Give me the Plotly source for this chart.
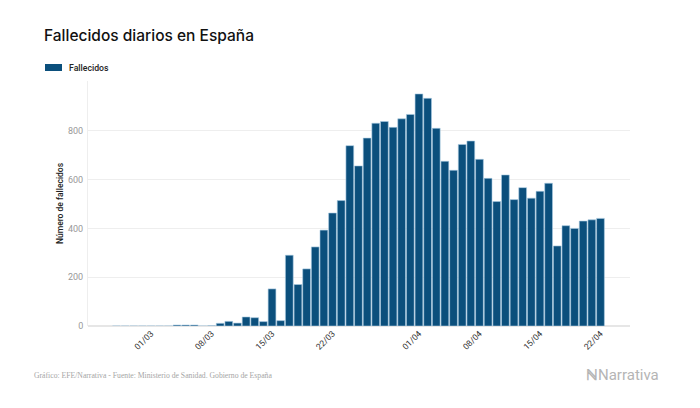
import plotly.graph_objects as go
import pandas as pd

dates = pd.date_range("2020-02-26", "2020-04-22", freq="D").strftime("%Y-%m-%d").tolist()
deaths = [
    0, 0, 0, 0, 0, 0, 0,          # 26/02 - 03/03
    4, 4, 4, 0, 1,                # 04/03 - 08/03
    11, 19, 12, 37, 34, 18, 152,  # 09/03 - 15/03
    22, 290, 170, 234, 324, 393, 463,  # 16/03 - 22/03
    514, 739, 656, 770, 831, 838, 814, 849, 867,  # 23/03 - 31/03
    951, 933, 810, 675, 638, 744, 758,  # 01/04 - 07/04
    683, 605, 510, 619, 518, 567, 524,  # 08/04 - 14/04
    552, 585, 328, 411, 400, 430, 435,  # 15/04 - 21/04
    441,                          # 22/04
]
tick_vals = ["2020-03-01", "2020-03-08", "2020-03-15", "2020-03-22",
             "2020-04-01", "2020-04-08", "2020-04-15", "2020-04-22"]
tick_text = ["01/03", "08/03", "15/03", "22/03", "01/04", "08/04", "15/04", "22/04"]
y_ticks = [0, 200, 400, 600, 800]

BAR = "#0b4f7c"
FONT = "Roboto"
OFF = 8  # page body margin offset
W, H = 700 - OFF, 408 - OFF
L, R, T, B = 88 - OFF, 70, 81 - OFF, 82


def px(x):
    return (x - OFF - L) / (W - L - R)


def py(y):
    return (H - B - (y - OFF)) / (H - T - B)


fig = go.Figure()
fig.add_trace(go.Bar(
    x=dates, y=deaths, name="Fallecidos", showlegend=False,
    marker=dict(color=BAR, line=dict(color="#a9cbe3", width=0.6)),
))

fig.update_layout(
    width=W, height=H,
    paper_bgcolor="white", plot_bgcolor="white",
    margin=dict(l=L, r=R, t=T, b=B, autoexpand=False),
    bargap=0.1,
    showlegend=False,
    title=dict(text="Fallecidos diarios en España", x=(44 - OFF) / W, xanchor="left",
               y=1 - (36 - OFF) / H, yanchor="middle",
               font=dict(family="Inter", size=15.5, color="#111", weight=500)),
    xaxis=dict(
        type="date", automargin=False,
        range=["2020-02-22 17:00", "2020-04-25 10:00"],
        tickvals=tick_vals, ticktext=tick_text, tickangle=-45,
        tickfont=dict(family=FONT, size=8.5, color="#333"),
        showgrid=False, showline=False, zeroline=False, ticks="",
    ),
    yaxis=dict(
        range=[0, 1004], tickvals=y_ticks, automargin=False,
        tickfont=dict(family=FONT, size=9, color="#999"),
        showgrid=True, gridcolor="#eeeeee", gridwidth=1,
        showline=True, linecolor="#eeeeee", linewidth=1,
        zeroline=True, zerolinecolor="#e6e6e6",
        ticks="", ticklabelstandoff=2,
    ),
)

# y axis title
fig.add_annotation(text="Número de fallecidos", xref="paper", yref="paper",
                   x=px(60), y=py(203), textangle=-90,
                   xanchor="center", yanchor="middle", showarrow=False,
                   font=dict(family=FONT, size=8.5, color="#222", weight=500))

# legend drawn manually: swatch + label
fig.add_shape(type="rect", xref="paper", yref="paper",
              x0=px(45), x1=px(62), y0=py(71), y1=py(64),
              fillcolor=BAR, line=dict(width=0))
fig.add_annotation(text="Fallecidos", xref="paper", yref="paper",
                   x=px(67), y=py(67.5),
                   xanchor="left", yanchor="middle", showarrow=False,
                   font=dict(family=FONT, size=8.7, color="#222", weight=500))

fig.add_annotation(
    text="Gráfico: EFE/Narrativa - Fuente: Ministerio de Sanidad. Gobierno de España",
    xref="paper", yref="paper", x=px(32), y=py(375),
    xanchor="left", yanchor="middle",
    showarrow=False, font=dict(family="Liberation Serif", size=7.7, color="#a5a5a5"),
)
fig.add_annotation(
    text="<b>ℕ</b>Narrativa",
    xref="paper", yref="paper", x=px(661), y=py(375),
    xanchor="right", yanchor="middle",
    showarrow=False, font=dict(family="Roboto", size=15, color="#b5b5b5"),
)

fig.write_html("out.html")
